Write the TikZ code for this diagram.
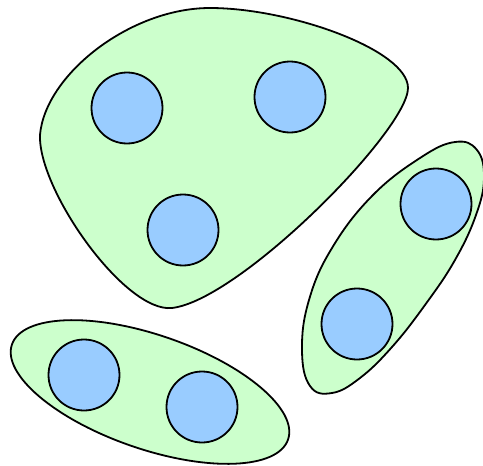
\documentclass[tikz,border=0pt]{standalone}
\definecolor{blobgreen}{HTML}{CCFFCC}
\definecolor{ballblue}{HTML}{99CCFF}
\begin{document}
\begin{tikzpicture}[x=1pt,y=-1pt,
  blob/.style={draw=black,fill=blobgreen,line width=1.8pt},
  ball/.style={circle,draw=black,fill=ballblue,line width=1.8pt,minimum size=71pt,inner sep=0pt}]
\useasboundingbox (0,0) rectangle (483,466);
% big blob
\draw[blob] (40,135) .. controls (45,75) and (130,8) .. (210,8)
  .. controls (290,8) and (408,50) .. (408,88)
  .. controls (408,130) and (240,300) .. (172,308)
  .. controls (125,313) and (38,190) .. (40,135) -- cycle;
% right blob
\draw[blob] plot[smooth cycle,tension=0.7] coordinates {
 (455,142) (477,150) (484,178) (476,215) (455,260) (425,305) (392,347) (360,378) (332,393) (310,386) (302,350) (309,300) (332,248) (372,196) (420,158)};
% bottom blob
\draw[blob,rotate around={-19:(150,392)}] (150,392) ellipse [x radius=146,y radius=57];
\node[ball] (c1) at (127,108) {};
\node[ball] (c2) at (290,97) {};
\node[ball] (c3) at (183,230) {};
\node[ball] (c4) at (436,204) {};
\node[ball] (c5) at (357,324) {};
\node[ball] (c6) at (84,375) {};
\node[ball] (c7) at (202,407) {};
\end{tikzpicture}
\end{document}
